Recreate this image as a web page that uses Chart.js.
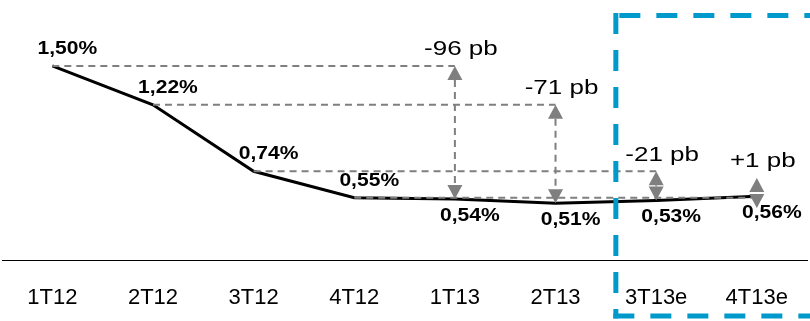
<!DOCTYPE html>
<html>
<head>
<meta charset="utf-8">
<script src="https://cdn.jsdelivr.net/npm/chart.js@4"></script>
<style>
  html, body { margin: 0; padding: 0; background: #fff; overflow: hidden; }
  #wrap { width: 813px; height: 321px; position: relative; }
</style>
</head>
<body>
<div id="wrap"><canvas id="c"></canvas></div>
<script>
// Quarterly ratio (%), 2012 actuals through 2013 estimates
const quarters = ['1T12', '2T12', '3T12', '4T12', '1T13', '2T13', '3T13e', '4T13e'];
const ratioPct = [1.50, 1.22, 0.74, 0.55, 0.54, 0.51, 0.53, 0.56];
const labelSide = ['above', 'above', 'above', 'above', 'below', 'below', 'below', 'below'];
// Year-on-year change of each 2013 quarter, in basis points
const yoyChangeBp = [-96, -71, -21, 1];
const firstEstimate = 6;

const FONT = '"Liberation Sans", Arial, sans-serif';
const GREY = '#7f7f7f';
const BLUE = '#0099cc';

function fmtPct(v) { return v.toFixed(2).replace('.', ',') + '%'; }
function fmtBp(v) { return (v > 0 ? '+' : '') + v + ' pb'; }

function wideText(ctx, text, x, y, font, sx) {
  ctx.save();
  ctx.translate(x, y);
  ctx.scale(sx, 1);
  ctx.font = font;
  ctx.fillStyle = '#000';
  ctx.textAlign = 'center';
  ctx.textBaseline = 'middle';
  ctx.fillText(text, 0, 0);
  ctx.restore();
}

function triangle(ctx, x, tipY, baseY, half) {
  ctx.beginPath();
  ctx.moveTo(x, tipY);
  ctx.lineTo(x - half, baseY);
  ctx.lineTo(x + half, baseY);
  ctx.closePath();
  ctx.fill();
}

// Dashed guides and double arrows comparing each 2013 quarter with the same quarter of 2012
const yoyArrows = {
  id: 'yoyArrows',
  afterDatasetsDraw(chart) {
    const ctx = chart.ctx;
    const xs = chart.scales.x, ys = chart.scales.y;
    const head = 14, half = 7.5;
    ctx.save();
    yoyChangeBp.forEach((bp, k) => {
      const from = k, to = k + 4;
      const x0 = xs.getPixelForValue(from);
      const xa = xs.getPixelForValue(to);
      const yFrom = ys.getPixelForValue(ratioPct[from]);
      const yTo = ys.getPixelForValue(ratioPct[to]);

      ctx.strokeStyle = GREY;
      ctx.fillStyle = GREY;
      ctx.lineWidth = 2;
      ctx.setLineDash([7, 5]);
      ctx.beginPath();
      ctx.moveTo(x0, yFrom);
      ctx.lineTo(xa, yFrom);
      ctx.stroke();

      const top = Math.min(yFrom, yTo), bot = Math.max(yFrom, yTo);
      let upTip, upBase, downTip, downBase;
      if (bot - top < 2 * head) {
        const mid = (top + bot) / 2 - 4;
        upBase = mid - 1; upTip = upBase - head;
        downBase = mid + 1; downTip = downBase + head;
      } else {
        upTip = top; upBase = top + head;
        downTip = bot; downBase = bot - head;
        ctx.beginPath();
        ctx.moveTo(xa, upBase);
        ctx.lineTo(xa, downBase);
        ctx.stroke();
      }
      ctx.setLineDash([]);
      triangle(ctx, xa, upTip, upBase, half);
      triangle(ctx, xa, downTip, downBase, half);

      wideText(ctx, fmtBp(bp), xa + 6, upTip - 16, '20px ' + FONT, 1.3);
    });
    ctx.restore();
  }
};

// Value labels beside each point
const pointLabels = {
  id: 'pointLabels',
  afterDatasetsDraw(chart) {
    const ctx = chart.ctx;
    const meta = chart.getDatasetMeta(0);
    meta.data.forEach((pt, i) => {
      const dy = labelSide[i] === 'above' ? -17 : 17;
      wideText(ctx, fmtPct(ratioPct[i]), pt.x + 15, pt.y + dy, 'bold 18px ' + FONT, 1.17);
    });
  }
};

// Dashed frame around the estimated quarters
const estimateFrame = {
  id: 'estimateFrame',
  afterDraw(chart) {
    const ctx = chart.ctx;
    const xs = chart.scales.x;
    const left = (xs.getPixelForValue(firstEstimate - 1) + xs.getPixelForValue(firstEstimate)) / 2 + 10;
    const top = 15.5, bottom = 316, right = chart.width + 20;
    ctx.save();
    ctx.strokeStyle = BLUE;
    ctx.lineWidth = 5;
    ctx.setLineDash([21, 16]);
    ctx.beginPath();
    ctx.moveTo(left, top - 2.5);
    ctx.lineTo(left, bottom + 2.5);
    ctx.stroke();
    ctx.beginPath();
    ctx.moveTo(left + 3.5, top);
    ctx.lineTo(right, top);
    ctx.stroke();
    ctx.beginPath();
    ctx.moveTo(left - 2.5, bottom);
    ctx.lineTo(right, bottom);
    ctx.stroke();
    ctx.restore();
  }
};

new Chart(document.getElementById('c'), {
  type: 'line',
  data: {
    labels: quarters,
    datasets: [{
      data: ratioPct,
      borderColor: '#000',
      borderWidth: 3,
      pointRadius: 0,
      tension: 0,
      fill: false
    }]
  },
  options: {
    responsive: true,
    maintainAspectRatio: false,
    animation: false,
    layout: { padding: { left: 2, right: 0, top: 0, bottom: 0 } },
    plugins: { legend: { display: false }, tooltip: { enabled: false } },
    scales: {
      x: {
        offset: true,
        grid: { display: false, drawTicks: false },
        border: { display: true, color: '#000', width: 1 },
        ticks: {
          color: '#000',
          font: { family: FONT, size: 22 },
          padding: 25,
          maxRotation: 0,
          autoSkip: false
        },
        afterFit(axis) { axis.height = 61; }
      },
      y: {
        display: false,
        min: 0.1,
        max: 1.976
      }
    }
  },
  plugins: [yoyArrows, pointLabels, estimateFrame]
});
</script>
</body>
</html>
